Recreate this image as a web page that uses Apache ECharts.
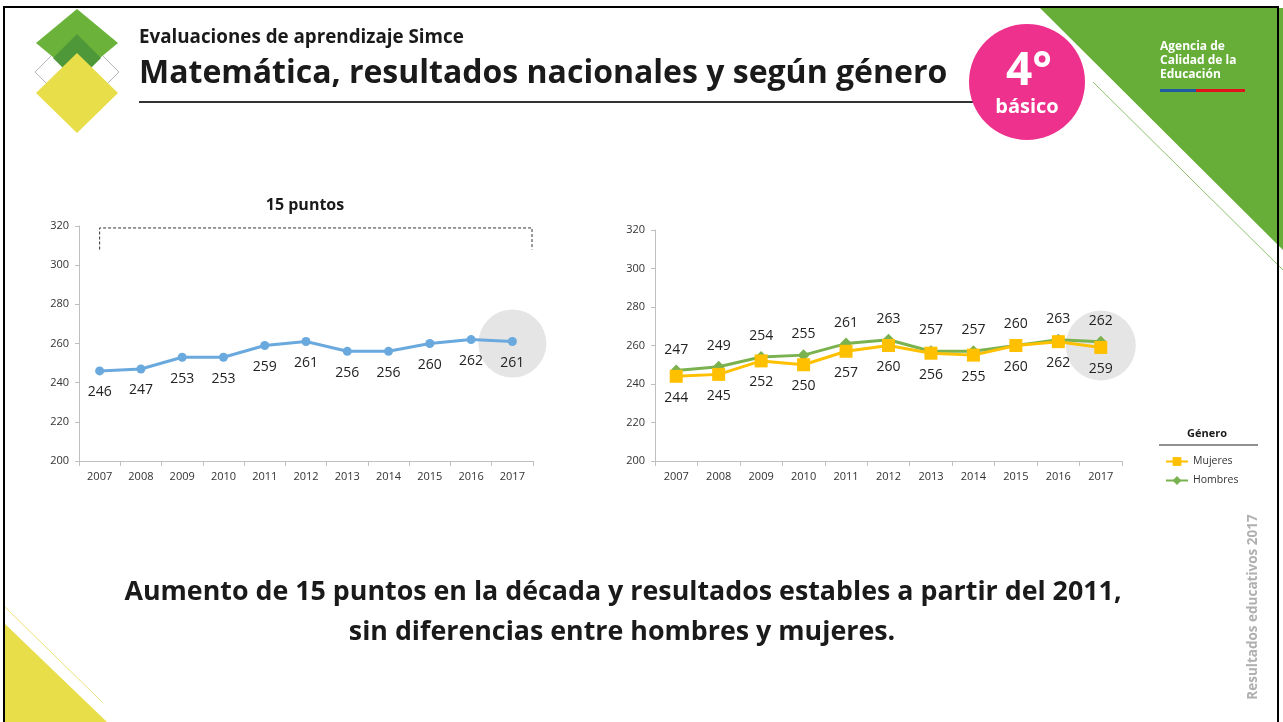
<!DOCTYPE html>
<html>
<head>
<meta charset="utf-8">
<script src="https://cdn.jsdelivr.net/npm/echarts@6/dist/echarts.min.js"></script>
<style>
  html, body { margin: 0; padding: 0; background: #fff; }
  #main { width: 1283px; height: 722px; }
</style>
</head>
<body>
<div id="main"></div>
<script>
// datos
var years = ['2007','2008','2009','2010','2011','2012','2013','2014','2015','2016','2017'];
var nacional = [246, 247, 253, 253, 259, 261, 256, 256, 260, 262, 261];
var mujeres = [244, 245, 252, 250, 257, 260, 256, 255, 260, 262, 259];
var hombres = [247, 249, 254, 255, 261, 263, 257, 257, 260, 263, 262];
var yTicks = [200, 220, 240, 260, 280, 300, 320];
// círculo gris que marca el último año
var destacadoAnio = '2017';
var destacadoValor = 260;
// corchete de "15 puntos"
var corcheteDesde = '2007';
var corcheteArriba = 319;
var corcheteAbajo = 308;

var FONT = '"Open Sans", "Liberation Sans", sans-serif';
var chart = echarts.init(document.getElementById('main'));

function destacado() {
  return years.map(function (y) { return y === destacadoAnio ? destacadoValor : '-'; });
}

function ejeX(idx) {
  return {
    type: 'category', gridIndex: idx, data: years, boundaryGap: true,
    axisLine: { lineStyle: { color: '#bfbfbf', width: 1 } },
    axisTick: { show: true, length: 5, lineStyle: { color: '#bfbfbf' } },
    axisLabel: { color: '#333', fontSize: 11, fontFamily: FONT, margin: 10 }
  };
}
function ejeY(idx) {
  return {
    type: 'value', gridIndex: idx,
    min: yTicks[0], max: yTicks[yTicks.length - 1], interval: yTicks[1] - yTicks[0],
    axisLine: { show: true, lineStyle: { color: '#bfbfbf', width: 1 } },
    axisTick: { show: true, length: 4, lineStyle: { color: '#bfbfbf' } },
    axisLabel: { color: '#333', fontSize: 11, fontFamily: FONT, margin: 10 },
    splitLine: { show: false }
  };
}

//decoración de la lámina
var decoracion = [
  // marco
  { type: 'rect', shape: { x: 4, y: 7, width: 1274, height: 730 }, style: { fill: null, stroke: '#000', lineWidth: 2 }, z: 100 },
  // triángulo verde arriba derecha
  { type: 'polygon', shape: { points: [[1040, 8], [1283, 8], [1283, 250]] }, style: { fill: '#66ae38' } },
  { type: 'line', shape: { x1: 1093, y1: 82, x2: 1283, y2: 270 }, style: { stroke: '#8cc46a', lineWidth: 1 } },
  { type: 'text', left: 1160, top: 40, style: { text: 'Agencia de\nCalidad de la\nEducación', fill: '#fff', font: 'bold 12px ' + FONT, lineHeight: 14 } },
  { type: 'rect', shape: { x: 1160, y: 89, width: 36, height: 3 }, style: { fill: '#1f5aa6' } },
  { type: 'rect', shape: { x: 1196, y: 89, width: 49, height: 3 }, style: { fill: '#e3101e' } },
  // triángulo amarillo abajo izquierda
  { type: 'polygon', shape: { points: [[4, 623], [107, 722], [4, 722]] }, style: { fill: '#e8de4a' } },
  { type: 'line', shape: { x1: 5, y1: 607, x2: 102, y2: 702 }, style: { stroke: '#ece27a', lineWidth: 1 } },
  // logo rombos
  { type: 'polygon', shape: { points: [[56, 51], [77, 72], [56, 93], [35, 72]] }, style: { fill: null, stroke: '#b5b5b5', lineWidth: 1 } },
  { type: 'polygon', shape: { points: [[98, 51], [119, 72], [98, 93], [77, 72]] }, style: { fill: null, stroke: '#b5b5b5', lineWidth: 1 } },
  { type: 'polygon', shape: { points: [[77, 9], [118, 43], [77, 77], [36, 43]] }, style: { fill: '#6ab23a' } },
  { type: 'polygon', shape: { points: [[77, 34], [101, 58], [77, 82], [53, 58]] }, style: { fill: '#4e983a' } },
  { type: 'polygon', shape: { points: [[77, 53], [118, 93], [77, 133], [36, 93]] }, style: { fill: '#e8de4a' } },
  // títulos
  { type: 'text', x: 139, y: 38, style: { text: 'Evaluaciones de aprendizaje Simce', fill: '#1a1a1a', font: 'bold 18.8px ' + FONT, verticalAlign: 'middle' } },
  { type: 'text', x: 139, y: 74, style: { text: 'Matemática, resultados nacionales y según género', fill: '#1a1a1a', font: 'bold 32px ' + FONT, verticalAlign: 'middle' } },
  { type: 'line', shape: { x1: 139, y1: 102, x2: 1000, y2: 102 }, style: { stroke: '#333', lineWidth: 2 } },
  // círculo 4° básico
  { type: 'circle', shape: { cx: 1027, cy: 82, r: 58 }, style: { fill: '#ee318c' } },
  { type: 'text', x: 1029, y: 72, style: { text: '4°', fill: '#fff', font: 'bold 46px ' + FONT, align: 'center', verticalAlign: 'middle' } },
  { type: 'text', x: 1027, y: 107, style: { text: 'básico', fill: '#fff', font: 'bold 20px ' + FONT, align: 'center', verticalAlign: 'middle' } },
  // texto vertical
  { type: 'text', x: 1253, y: 607, rotation: Math.PI / 2, style: { text: 'Resultados educativos 2017', fill: '#b0b0b0', font: 'bold 13.5px ' + FONT, align: 'center', verticalAlign: 'middle' } },
  // conclusión
  { type: 'text', x: 623, y: 592, style: { text: 'Aumento de 15 puntos en la década y resultados estables a partir del 2011,', fill: '#1a1a1a', font: 'bold 26.8px ' + FONT, align: 'center', verticalAlign: 'middle' } },
  { type: 'text', x: 622, y: 632, style: { text: 'sin diferencias entre hombres y mujeres.', fill: '#1a1a1a', font: 'bold 26.8px ' + FONT, align: 'center', verticalAlign: 'middle' } },
  // título del gráfico izquierdo
  { type: 'text', x: 305, y: 205, style: { text: '15 puntos', fill: '#1a1a1a', font: 'bold 16px ' + FONT, align: 'center', verticalAlign: 'middle' } },
  // leyenda
  { type: 'text', x: 1207, y: 434, style: { text: 'Género', fill: '#1a1a1a', font: 'bold 11px ' + FONT, align: 'center', verticalAlign: 'middle' } },
  { type: 'line', shape: { x1: 1159, y1: 445, x2: 1258, y2: 445 }, style: { stroke: '#222', lineWidth: 1 } },
  // corchete (se ubica luego)
  { type: 'polyline', id: 'corchete', shape: { points: [] }, style: { fill: null, stroke: '#333', lineWidth: 1, lineDash: [3, 2] } }
];

var option = {
  animation: false,
  backgroundColor: '#fff',
  textStyle: { fontFamily: FONT },
  grid: [
    { left: 79, right: 750, top: 226, bottom: 261 },
    { left: 655, right: 161, top: 230, bottom: 261 }
  ],
  xAxis: [ejeX(0), ejeX(1)],
  yAxis: [ejeY(0), ejeY(1)],
  legend: {
    data: ['Mujeres', 'Hombres'],
    orient: 'vertical', left: 1160, top: 451,
    itemWidth: 22, itemHeight: 11, itemGap: 8,
    textStyle: { fontSize: 10.5, color: '#333', fontFamily: FONT }
  },
  graphic: decoracion,
  series: [
    {
      type: 'scatter', xAxisIndex: 0, yAxisIndex: 0, data: destacado(),
      symbolSize: 68, itemStyle: { color: '#dedede' }, z: 1, silent: true
    },
    {
      type: 'scatter', xAxisIndex: 1, yAxisIndex: 1, data: destacado(),
      symbolSize: 70, itemStyle: { color: '#dedede' }, z: 1, silent: true
    },
    {
      name: 'Nacional', type: 'line', xAxisIndex: 0, yAxisIndex: 0, data: nacional,
      symbol: 'circle', symbolSize: 9, z: 3,
      lineStyle: { color: '#6aa9dd', width: 3 }, itemStyle: { color: '#6aa9dd' },
      label: { show: true, position: 'bottom', distance: 10, fontSize: 14, color: '#222', fontFamily: FONT }
    },
    {
      name: 'Hombres', type: 'line', xAxisIndex: 1, yAxisIndex: 1, data: hombres,
      symbol: 'diamond', symbolSize: 12, z: 3,
      lineStyle: { color: '#79b24f', width: 3 }, itemStyle: { color: '#79b24f' },
      label: { show: true, position: 'top', distance: 8, fontSize: 14, color: '#222', fontFamily: FONT }
    },
    {
      name: 'Mujeres', type: 'line', xAxisIndex: 1, yAxisIndex: 1, data: mujeres,
      symbol: 'rect', symbolSize: 13, z: 4,
      lineStyle: { color: '#ffc000', width: 3 }, itemStyle: { color: '#ffc000' },
      label: { show: true, position: 'bottom', distance: 8, fontSize: 14, color: '#222', fontFamily: FONT }
    }
  ]
};
chart.setOption(option);

// corchete sobre el gráfico izquierdo
var pA = chart.convertToPixel({ xAxisIndex: 0, yAxisIndex: 0 }, [corcheteDesde, corcheteArriba]);
var pB = chart.convertToPixel({ xAxisIndex: 0, yAxisIndex: 0 }, [corcheteDesde, corcheteAbajo]);
var finX = chart.getModel().getComponent('grid', 0).coordinateSystem.getRect();
var xDer = finX.x + finX.width - 1;
chart.setOption({
  graphic: [{
    id: 'corchete',
    shape: { points: [[pB[0], pB[1]], [pA[0], pA[1]], [xDer, pA[1]], [xDer, pB[1]]] }
  }]
});
</script>
</body>
</html>
